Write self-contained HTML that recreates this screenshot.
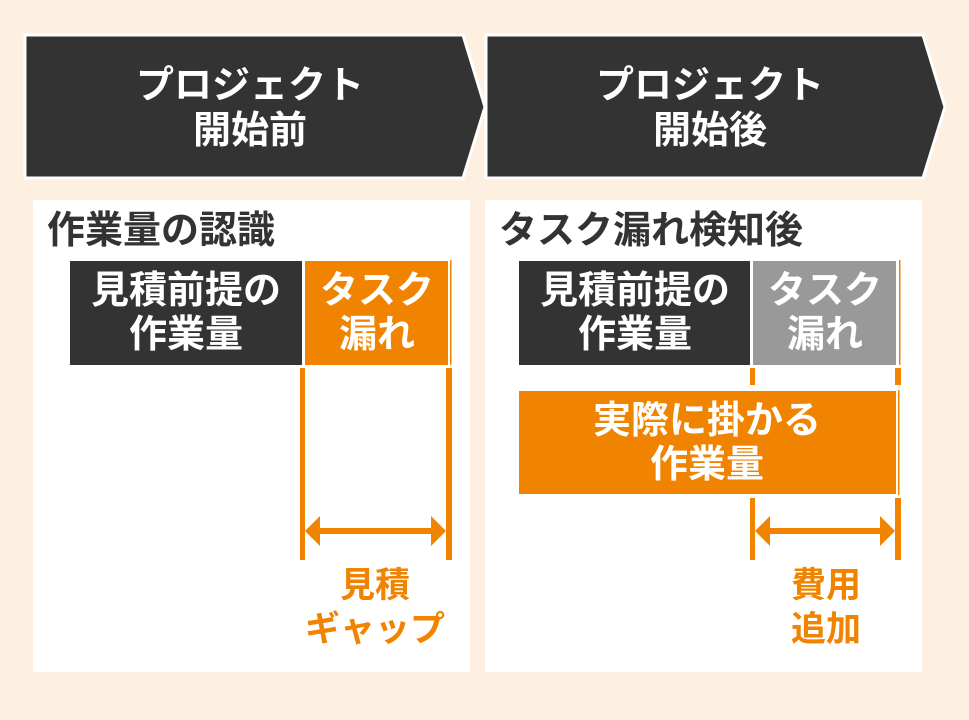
<!DOCTYPE html>
<html><head><meta charset="utf-8"><style>
html,body{margin:0;padding:0;background:#fdf0e1;}
svg{display:block}
text{font-family:"Liberation Sans","Noto Sans CJK JP",sans-serif;font-weight:bold;}
</style></head><body>
<svg width="969" height="720" viewBox="0 0 969 720" xmlns="http://www.w3.org/2000/svg">
<rect width="969" height="720" fill="#fdf0e1"/>
<polygon points="25,35 463,35 485,107 463,178 25,178" fill="#333" stroke="#fff" stroke-width="3"/>
<polygon points="486,35 923,35 945,107 923,178 486,178" fill="#333" stroke="#fff" stroke-width="3"/>
<g fill="#fff" font-size="38" text-anchor="middle">
<text x="250" y="98">プロジェクト</text>
<text x="250" y="143">開始前</text>
<text x="710" y="98">プロジェクト</text>
<text x="710" y="143">開始後</text>
</g>
<rect x="33" y="200" width="437" height="472" fill="#fff"/>
<rect x="485" y="200" width="437" height="472" fill="#fff"/>
<g fill="#333" font-size="38">
<text x="47" y="243">作業量の認識</text>
<text x="499" y="243">タスク漏れ検知後</text>
</g>
<!-- left -->
<rect x="70" y="261" width="232" height="104" fill="#333"/>
<rect x="305" y="261" width="143" height="104" fill="#f08300"/>
<rect x="450" y="260" width="1.5" height="105" fill="#f08300"/>
<rect x="300" y="368" width="5" height="192" fill="#f08300"/>
<rect x="446" y="368" width="6" height="192" fill="#f08300"/>
<rect x="318" y="528" width="116" height="6" fill="#f08300"/>
<polygon points="305,531 320,516 320,546" fill="#f08300"/>
<polygon points="446,531 431,516 431,546" fill="#f08300"/>
<!-- right -->
<rect x="519" y="261" width="231" height="104" fill="#333"/>
<rect x="753" y="261" width="143" height="104" fill="#999"/>
<rect x="899" y="260" width="1.5" height="105" fill="#f08300"/>
<rect x="750" y="368" width="5" height="17" fill="#f08300"/>
<rect x="895" y="368" width="6" height="17" fill="#f08300"/>
<rect x="519" y="391" width="377" height="103" fill="#f08300"/>
<rect x="898" y="390" width="1.5" height="105" fill="#f08300"/>
<rect x="750" y="498" width="5" height="62" fill="#f08300"/>
<rect x="895" y="498" width="6" height="62" fill="#f08300"/>
<rect x="768" y="528" width="116" height="6" fill="#f08300"/>
<polygon points="755,531 770,516 770,546" fill="#f08300"/>
<polygon points="895,531 880,516 880,546" fill="#f08300"/>
<g fill="#fff" font-size="38" text-anchor="middle">
<text x="186" y="303">見積前提の</text>
<text x="186" y="347">作業量</text>
<text x="377" y="303">タスク</text>
<text x="377" y="347">漏れ</text>
<text x="635" y="303">見積前提の</text>
<text x="635" y="347">作業量</text>
<text x="825" y="303">タスク</text>
<text x="825" y="347">漏れ</text>
<text x="707" y="433">実際に掛かる</text>
<text x="707" y="477">作業量</text>
</g>
<g fill="#f08300" font-size="35" text-anchor="middle">
<text x="375" y="597">見積</text>
<text x="375" y="641">ギャップ</text>
<text x="826" y="597">費用</text>
<text x="826" y="641">追加</text>
</g>
</svg>
</body></html>
